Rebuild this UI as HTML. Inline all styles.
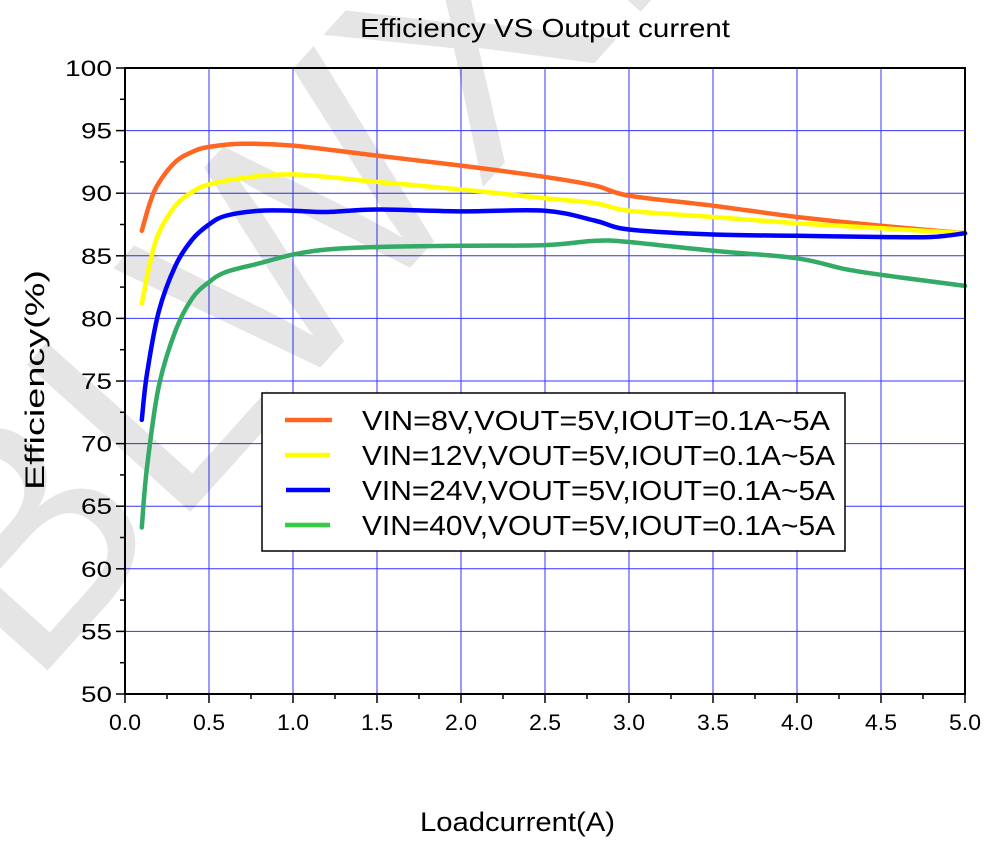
<!DOCTYPE html>
<html><head><meta charset="utf-8"><style>
html,body{margin:0;padding:0;background:#fff;}
svg{display:block;font-family:"Liberation Sans",Arial,sans-serif;}
</style></head><body>
<svg id="s" width="999" height="845" viewBox="0 0 999 845" xmlns="http://www.w3.org/2000/svg">
<rect width="999" height="845" fill="#fff"/>
<g id="grid"></g>
<text x="0" y="0" transform="translate(30,690) rotate(-48)" font-size="320" fill="#000" fill-opacity="0.1" font-family="Liberation Sans, sans-serif">BLWXI</text>
<g id="curves" fill="none" stroke-width="4.5" stroke-linecap="round" stroke-linejoin="round"></g>
<rect x="125" y="68" width="840" height="626" fill="none" stroke="#000" stroke-width="2"/>
<g id="ticks"></g>
<text x="360" y="37" font-size="26" textLength="370" lengthAdjust="spacingAndGlyphs">Efficiency VS Output current</text>
<text transform="translate(44,490) rotate(-90)" font-size="27" textLength="220" lengthAdjust="spacingAndGlyphs">Efficiency(%)</text>
<text x="420" y="831" font-size="27" textLength="195" lengthAdjust="spacingAndGlyphs">Loadcurrent(A)</text>
<rect x="262" y="393" width="583" height="158" fill="#fff" stroke="#000" stroke-width="1.5"/>
<line x1="285" y1="420" x2="332" y2="420" stroke="#ff6622" stroke-width="4.5"/>
<line x1="285" y1="455" x2="330" y2="455" stroke="#ffff00" stroke-width="4.5"/>
<line x1="286" y1="490" x2="330" y2="490" stroke="#0000ff" stroke-width="4.5"/>
<line x1="285" y1="525" x2="330" y2="525" stroke="#33cc44" stroke-width="4.5"/>
<g font-size="28">
<text x="362" y="430" textLength="468" lengthAdjust="spacingAndGlyphs">VIN=8V,VOUT=5V,IOUT=0.1A~5A</text>
<text x="362" y="465" textLength="473" lengthAdjust="spacingAndGlyphs">VIN=12V,VOUT=5V,IOUT=0.1A~5A</text>
<text x="362" y="500" textLength="473" lengthAdjust="spacingAndGlyphs">VIN=24V,VOUT=5V,IOUT=0.1A~5A</text>
<text x="362" y="535" textLength="473" lengthAdjust="spacingAndGlyphs">VIN=40V,VOUT=5V,IOUT=0.1A~5A</text>
</g>
</svg>
<script>
var NS="http://www.w3.org/2000/svg";
function X(x){return 125+168*x;} function Y(v){return 694-12.52*(v-50);}
function el(p,t,a){var e=document.createElementNS(NS,t);for(var k in a)e.setAttribute(k,a[k]);p.appendChild(e);return e;}
var g=document.getElementById('grid'),tk=document.getElementById('ticks');
for(var i=1;i<10;i++){var x=X(i*0.5);el(g,'line',{x1:x,y1:68,x2:x,y2:694,stroke:'#3333ff','stroke-width':1});}
for(var v=55;v<100;v+=5){var y=Y(v);el(g,'line',{x1:125,y1:y,x2:965,y2:y,stroke:'#3333ff','stroke-width':1});}
for(var i=0;i<=20;i++){var x=X(i*0.25);el(tk,'line',{x1:x,y1:694,x2:x,y2:694+(i%2?5:9),stroke:'#000','stroke-width':1.5});
 if(i%2==0){var t=el(tk,'text',{x:x-16,y:730,'font-size':22,textLength:32,lengthAdjust:'spacingAndGlyphs'});t.textContent=(i*0.25).toFixed(1);}}
for(var i=0;i<=20;i++){var v=50+i*2.5,y=Y(v);el(tk,'line',{x1:125,y1:y,x2:125-(i%2?5:9),y2:y,stroke:'#000','stroke-width':1.5});
 if(i%2==0){var w=(v==100?47:31);var t=el(tk,'text',{x:112-w,y:y+8,'font-size':22,textLength:w,lengthAdjust:'spacingAndGlyphs'});t.textContent=v;}}
var D=[
['#ff6622',[[0.1,87],[0.15,89.3],[0.2,90.8],[0.3,92.5],[0.4,93.3],[0.5,93.7],[0.7,93.95],[1.0,93.8],[1.5,93],[2.0,92.2],[2.5,91.3],[2.8,90.6],[3.0,89.8],[3.5,89.0],[4.0,88.1],[4.5,87.4],[5.0,86.8]]],
['#ffff00',[[0.1,81.2],[0.15,84.5],[0.2,86.8],[0.3,89],[0.4,90.1],[0.5,90.7],[0.7,91.2],[1.0,91.5],[1.5,90.9],[2.0,90.3],[2.5,89.6],[2.8,89.2],[3.0,88.6],[3.5,88.1],[4.0,87.6],[4.5,87.2],[5.0,86.8]]],
['#0000ff',[[0.1,71.9],[0.13,75.5],[0.2,80.5],[0.3,84.2],[0.4,86.3],[0.5,87.5],[0.6,88.2],[0.8,88.6],[1.0,88.6],[1.2,88.5],[1.5,88.7],[2.0,88.55],[2.5,88.6],[2.8,87.8],[3.0,87.1],[3.5,86.7],[4.0,86.6],[4.5,86.5],[4.8,86.5],[5.0,86.8]]],
['#33aa66',[[0.1,63.3],[0.13,68],[0.2,74.5],[0.3,79],[0.4,81.6],[0.5,82.9],[0.6,83.7],[0.8,84.4],[1.0,85.1],[1.2,85.5],[1.5,85.7],[2.0,85.8],[2.5,85.85],[2.8,86.2],[3.0,86.1],[3.5,85.4],[4.0,84.8],[4.3,83.9],[4.6,83.3],[5.0,82.6]]]];
var c=document.getElementById('curves');
D.forEach(function(s){var p=s[1].map(function(q){return [X(q[0]),Y(q[1])];});
 var d='M'+p[0][0]+','+p[0][1];
 for(var i=0;i<p.length-1;i++){var p0=p[Math.max(i-1,0)],p1=p[i],p2=p[i+1],p3=p[Math.min(i+2,p.length-1)];
  d+=' C'+(p1[0]+(p2[0]-p0[0])/6)+','+(p1[1]+(p2[1]-p0[1])/6)+' '+(p2[0]-(p3[0]-p1[0])/6)+','+(p2[1]-(p3[1]-p1[1])/6)+' '+p2[0]+','+p2[1];}
 el(c,'path',{d:d,stroke:s[0]});});
</script>
</body></html>
